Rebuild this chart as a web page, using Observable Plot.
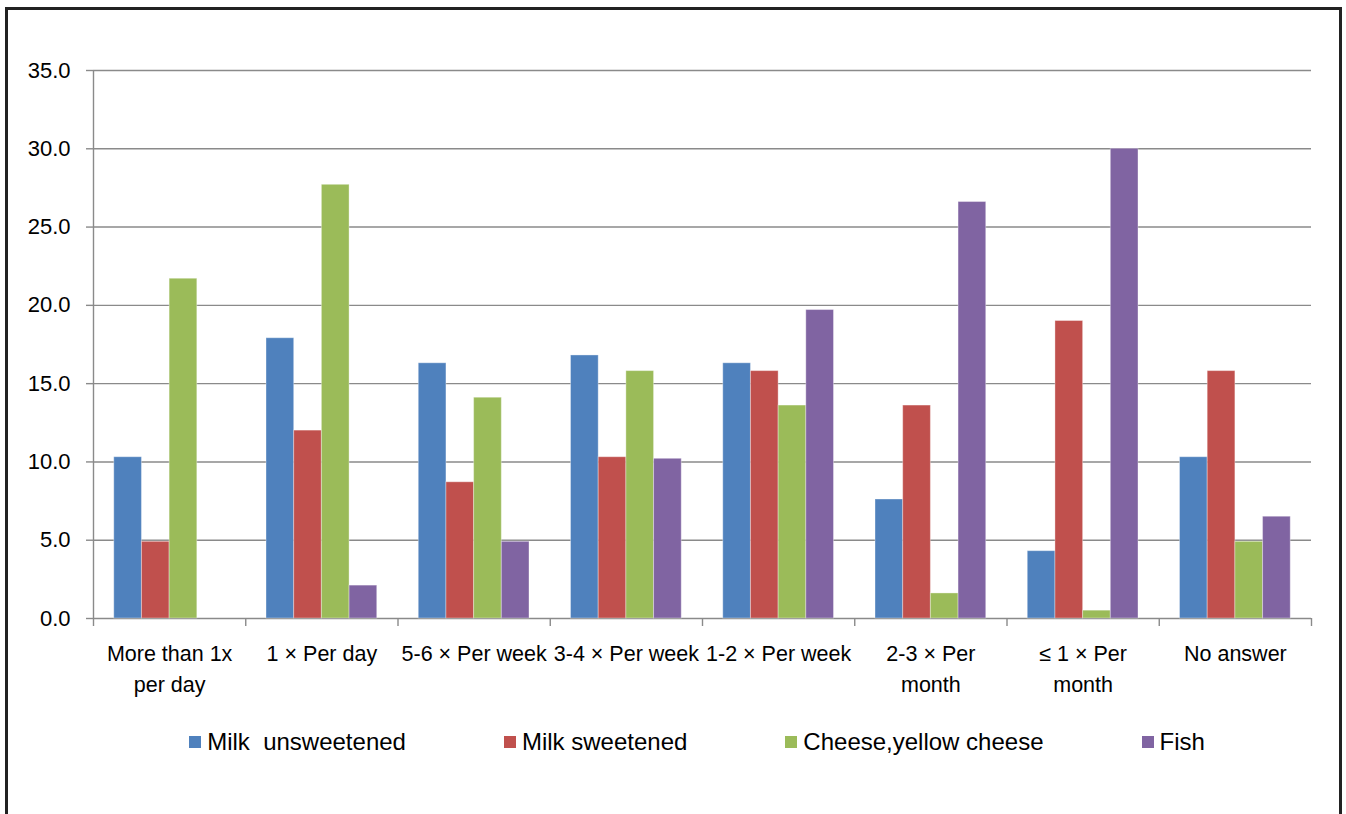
<!DOCTYPE html>
<html><head><meta charset="utf-8">
<script src="https://cdn.jsdelivr.net/npm/d3@7"></script>
<script src="https://cdn.jsdelivr.net/npm/@observablehq/plot@0.6"></script>
<style>
body{margin:0;background:#fff;font-family:"Liberation Sans",Arial,sans-serif;}
#frame{position:absolute;left:5px;top:7px;width:1337px;height:840px;border:3px solid #222;box-sizing:border-box;}
#chart{position:absolute;left:0;top:0;}
#legend{position:absolute;left:88px;width:1218px;top:728px;display:flex;justify-content:center;gap:98px;font-size:24px;color:#000;}
.item{display:flex;align-items:center;white-space:pre;}
.sw{width:12px;height:12px;margin-right:6px;}
</style></head><body>
<div id="frame"></div>
<div id="chart"></div>
<div id="legend"></div>
<script>
const categories = ["More than 1x\nper day","1 × Per day","5-6 × Per week","3-4 × Per week","1-2 × Per week","2-3 × Per\nmonth","≤ 1 × Per\nmonth","No answer"];
const seriesNames = ["Milk  unsweetened","Milk sweetened","Cheese,yellow cheese","Fish"];
const milkUnsweetened = [10.3, 17.9, 16.3, 16.8, 16.3, 7.6, 4.3, 10.3];
const milkSweetened   = [4.9, 12.0, 8.7, 10.3, 15.8, 13.6, 19.0, 15.8];
const cheese          = [21.7, 27.7, 14.1, 15.8, 13.6, 1.6, 0.5, 4.9];
const fish            = [0, 2.1, 4.9, 10.2, 19.7, 26.6, 30.0, 6.5];
const yTicks = [0, 5, 10, 15, 20, 25, 30, 35];
const colors = ["#4F81BD", "#C0504D", "#9BBB59", "#8064A2"];

const values = [milkUnsweetened, milkSweetened, cheese, fish];
const rows = categories.flatMap((c, i) => seriesNames.map((s, j) => ({cat: c, ci: i, series: s, si: j, value: values[j][i]})));
const nS = seriesNames.length;
const slot = 1 / (nS + 1.5);     // Excel gap width 150%
const gap = 0.75 * slot;

const chart = Plot.plot({
  width: 1346, height: 700,
  marginLeft: 93, marginRight: 35, marginTop: 70, marginBottom: 82,
  style: {fontFamily: "Liberation Sans, Arial, sans-serif", background: "transparent", color: "#000", overflow: "visible"},
  x: {type: "linear", domain: [0, categories.length], label: null},
  y: {domain: [0, 35], label: null},
  color: {domain: seriesNames, range: colors},
  marks: [
    Plot.ruleY(yTicks, {stroke: "#8a8a8a", strokeWidth: 1.4}),
    Plot.rectY(rows, {
      x1: d => d.ci + gap + d.si * slot,
      x2: d => d.ci + gap + (d.si + 1) * slot,
      y1: 0, y2: "value", fill: "series",
      stroke: "#ffffff", strokeOpacity: 0.35, strokeWidth: 1
    }),
    Plot.ruleX([0], {y1: 0, y2: 35, stroke: "#8a8a8a", strokeWidth: 1.4}),
    Plot.axisY({ticks: yTicks, tickFormat: d3.format(".1f"), label: null, tickSize: 7, tickPadding: 16, fontSize: 22, stroke: "#8a8a8a", fill: "#000", strokeWidth: 1.4}),
    Plot.axisX({ticks: d3.range(categories.length + 1), tickFormat: () => "", label: null, tickSize: 8, stroke: "#8a8a8a", strokeWidth: 1.4}),
    Plot.axisX({ticks: categories.map((c, i) => i + 0.5), tickFormat: d => categories[Math.floor(d)], label: null, tickSize: 0, tickPadding: 21, fontSize: 21.5, lineHeight: 1.42, fill: "#000"})
  ]
});
document.getElementById("chart").appendChild(chart);

const legend = d3.select("#legend");
seriesNames.forEach((s, j) => {
  const it = legend.append("div").attr("class", "item");
  it.append("div").attr("class", "sw").style("background", colors[j]);
  it.append("span").text(s);
});
</script>
</body></html>
